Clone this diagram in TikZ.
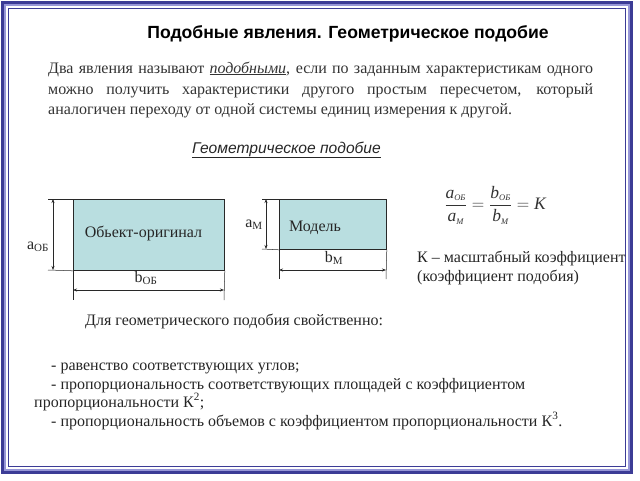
\documentclass[tikz,border=0pt]{standalone}
\usepackage{fontspec}
\setmainfont{Liberation Serif}
\setsansfont{Liberation Sans}
\usetikzlibrary{arrows.meta}
\definecolor{framedark}{RGB}{60,60,150}
\definecolor{framelight}{RGB}{150,150,215}
\definecolor{boxfill}{RGB}{185,222,224}
\definecolor{linegray}{RGB}{40,40,40}
\tikzset{
  rectbox/.style={draw=linegray, fill=boxfill, line width=0.8pt, inner sep=0pt, anchor=north west},
  extline/.style={draw=linegray, line width=0.5pt},
  dimline/.style={draw=linegray, line width=0.5pt, {Stealth[length=4pt,width=3pt]}-{Stealth[length=4pt,width=3pt]}},
  body/.style={font=\fontsize{16}{19}\selectfont, inner sep=0pt},
  lbl/.style={font=\fontsize{16}{19}\selectfont, inner sep=0pt, text=black!85},
}
\begin{document}
\begin{tikzpicture}[x=1pt,y=-1pt]
\useasboundingbox (0,0) rectangle (640,480);
\fill[white] (0,0) rectangle (640,480);
% frame
\draw[framedark, line width=3pt] (2.5,2.5) rectangle (631.5,472.5);
\draw[framelight, line width=1.2pt] (5,5) rectangle (629,470);
\draw[framedark, line width=1.2pt] (8.5,8.5) rectangle (625.5,466.5);
% title
\node[font=\sffamily\bfseries\fontsize{17.6}{20}\selectfont, inner sep=0pt, anchor=base] (title) at (348,38) {Подобные явления. Геометрическое подобие};
% paragraph
\node[body, anchor=base west, text=black!80] (p1) at (48,73) {\makebox[545pt][s]{Два явления называют \underline{\textit{подобными}}, если по заданным характеристикам одного}};
\node[body, anchor=base west, text=black!80] (p2) at (48,94) {\makebox[545pt][s]{можно получить характеристики другого простым пересчетом, который}};
\node[body, anchor=base west, text=black!80] (p3) at (48,114) {аналогичен переходу от одной системы единиц измерения к другой.};
% subtitle
\node[font=\sffamily\itshape\fontsize{15.6}{18}\selectfont, inner sep=0pt, anchor=base, text=black!85] (sub) at (286.5,153) {\underline{Геометрическое подобие}};
% big rectangle
\node[rectbox, minimum width=151pt, minimum height=71pt] (orig) at (73,199) {};
\node[lbl] (origtxt) at (143.5,233) {Обьект-оригинал};
\coordinate (oltop) at (48,199);
\coordinate (olbot) at (48,270);
\draw[extline] (oltop) -- (orig.north west);
\draw[extline] (olbot) -- (orig.south west);
\coordinate (oa1) at (53,199);
\coordinate (oa2) at (53,270);
\draw[dimline] (oa1) -- (oa2);
\node[lbl, anchor=base] (aob) at (38,249) {a\textsubscript{\fontsize{11}{12}\selectfont ОБ}};
\coordinate (obl) at (73,300);
\coordinate (obr) at (224,300);
\draw[extline] (orig.south west) -- (obl);
\draw[extline] (orig.south east) -- (obr);
\coordinate (ob1) at (73,290);
\coordinate (ob2) at (224,290);
\draw[dimline] (ob1) -- (ob2);
\node[lbl, anchor=base] (bob) at (146,282) {b\textsubscript{\fontsize{11}{12}\selectfont ОБ}};
% small rectangle
\node[rectbox, minimum width=107pt, minimum height=50pt] (model) at (279,199) {};
\node[lbl] (modeltxt) at (315,228) {Модель};
\coordinate (mltop) at (262,199);
\coordinate (mlbot) at (262,249);
\draw[extline] (mltop) -- (model.north west);
\draw[extline] (mlbot) -- (model.south west);
\coordinate (ma1) at (266,199);
\coordinate (ma2) at (266,249);
\draw[dimline] (ma1) -- (ma2);
\node[lbl, anchor=base] (am) at (254,227) {a\textsubscript{\fontsize{11}{12}\selectfont М}};
\coordinate (mbl) at (279,279);
\coordinate (mbr) at (386,279);
\draw[extline] (model.south west) -- (mbl);
\draw[extline] (model.south east) -- (mbr);
\coordinate (mb1) at (279,270);
\coordinate (mb2) at (386,270);
\draw[dimline] (mb1) -- (mb2);
\node[lbl, anchor=base] (bm) at (334,262) {b\textsubscript{\fontsize{11}{12}\selectfont М}};
% formula
\node[inner sep=0pt, text=black!80, font=\fontsize{17.5}{20}\selectfont] (formula) at (495,205)
  {$\displaystyle\frac{\mbox{\itshape a\textsubscript{\fontsize{8.5}{9}\selectfont ОБ}}}{\mbox{\itshape a\textsubscript{\fontsize{8.5}{9}\selectfont М}}}
   =\frac{\mbox{\itshape b\textsubscript{\fontsize{8.5}{9}\selectfont ОБ}}}{\mbox{\itshape b\textsubscript{\fontsize{8.5}{9}\selectfont М}}}
   =\mbox{\itshape K}$};
\node[body, anchor=base west, text=black!85] (k1) at (417,262) {К – масштабный коэффициент};
\node[body, anchor=base west, text=black!85] (k2) at (417,281) {(коэффициент подобия)};
% bottom text
\node[body, anchor=base west, text=black!85] (dl) at (85,325) {Для геометрического подобия свойственно:};
\node[body, anchor=base west, text=black!85] (b1) at (51,370) {- равенство соответствующих углов;};
\node[body, anchor=base west, text=black!85] (b2) at (51,389) {- пропорциональность соответствующих площадей с коэффициентом};
\node[body, anchor=base west, text=black!85] (b3) at (34,407) {пропорциональности К\textsuperscript{2};};
\node[body, anchor=base west, text=black!85] (b4) at (51,426) {- пропорциональность объемов с коэффициентом пропорциональности К\textsuperscript{3}.};
\end{tikzpicture}
\end{document}
